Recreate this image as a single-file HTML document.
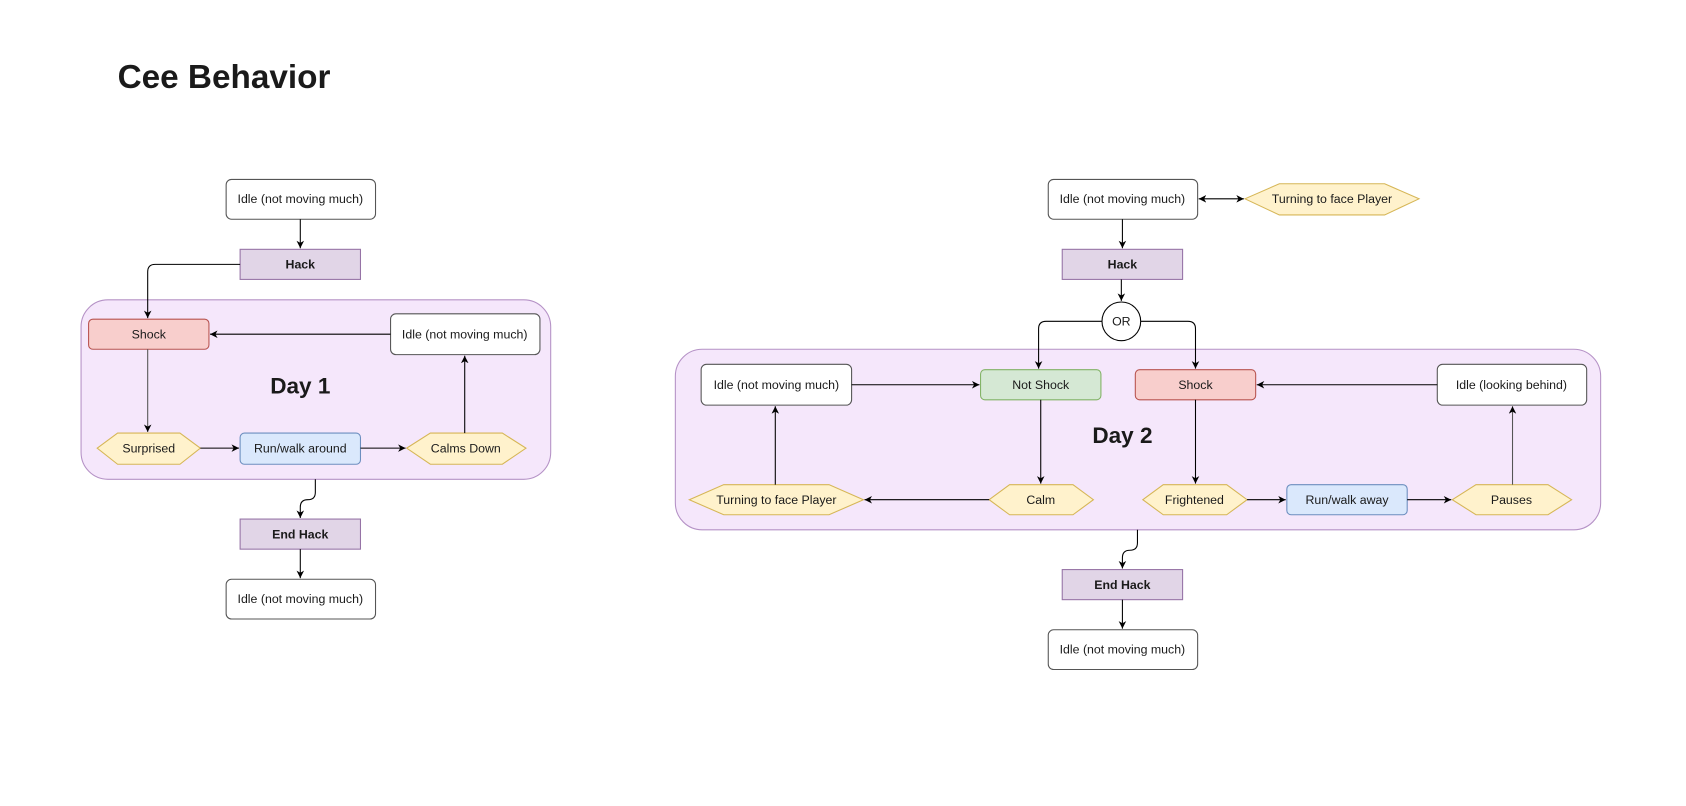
<!DOCTYPE html>
<html><head><meta charset="utf-8"><style>
html,body{margin:0;padding:0;background:#fff;}
svg{display:block;}
text{font-family:"Liberation Sans","DejaVu Sans",sans-serif;fill:#1a1a1a;}
</style></head><body>
<svg width="1686" height="806" viewBox="0 0 1568 750" xmlns="http://www.w3.org/2000/svg">
<defs>
<marker id="a" markerWidth="8" markerHeight="8" refX="7" refY="4" orient="auto" markerUnits="userSpaceOnUse">
<path d="M0,0.5 L7,4 L0,7.5 L2,4 Z" fill="#000"/></marker>
<marker id="b" markerWidth="8" markerHeight="8" refX="1" refY="4" orient="auto" markerUnits="userSpaceOnUse">
<path d="M8,0.5 L1,4 L8,7.5 L6,4 Z" fill="#000"/></marker>
</defs>
<rect width="1568" height="750" fill="#fff"/>
<text x="109" y="82" font-size="31" font-weight="bold">Cee Behavior</text>

<!-- Day 1 -->
<rect x="75" y="279" width="437" height="167" rx="25" fill="#f5e7fb" stroke="#b592c6"/>
<text x="279" y="366" font-size="21" font-weight="bold" text-anchor="middle">Day 1</text>
<g font-size="11.5" text-anchor="middle">
<rect x="210" y="167" width="139" height="37" rx="5" fill="#fff" stroke="#555"/>
<text x="279" y="189">Idle (not moving much)</text>
<rect x="223" y="232" width="112" height="28" fill="#e1d5e7" stroke="#9673a6"/>
<text x="279" y="250" font-weight="bold">Hack</text>
<rect x="82" y="297" width="112" height="28" rx="4" fill="#f8cecc" stroke="#b85450"/>
<text x="138" y="315">Shock</text>
<rect x="363" y="292" width="139" height="38" rx="5" fill="#fff" stroke="#555"/>
<text x="432" y="315">Idle (not moving much)</text>
<polygon points="90,417 109,403 167,403 186,417 167,432 109,432" fill="#fff2cc" stroke="#d6b656"/>
<text x="138" y="421">Surprised</text>
<rect x="223" y="403" width="112" height="29" rx="4" fill="#dae8fc" stroke="#6c8ebf"/>
<text x="279" y="421">Run/walk around</text>
<polygon points="378,417 400,403 467,403 489,417 467,432 400,432" fill="#fff2cc" stroke="#d6b656"/>
<text x="433" y="421">Calms Down</text>
<rect x="223" y="483" width="112" height="28" fill="#e1d5e7" stroke="#9673a6"/>
<text x="279" y="501" font-weight="bold">End Hack</text>
<rect x="210" y="539" width="139" height="37" rx="5" fill="#fff" stroke="#555"/>
<text x="279" y="561">Idle (not moving much)</text>
</g>
<g fill="none" stroke="#000" stroke-width="1">
<path d="M279,204 V231" marker-end="url(#a)"/>
<path d="M223,246 H144 Q137,246 137,253 V296" marker-end="url(#a)"/>
<path d="M363,311 H195" marker-end="url(#a)"/>
<path d="M137,325 V402" marker-end="url(#a)" stroke="#555"/>
<path d="M186,417 H222" marker-end="url(#a)"/>
<path d="M335,417 H377" marker-end="url(#a)"/>
<path d="M432,403 V331" marker-end="url(#a)"/>
<path d="M293,446 V458 Q293,465 286,465 Q279,465 279,472 V482" marker-end="url(#a)"/>
<path d="M279,511 V538" marker-end="url(#a)"/>
</g>

<!-- Day 2 -->
<rect x="628" y="325" width="861" height="168" rx="25" fill="#f5e7fb" stroke="#b592c6"/>
<text x="1044" y="412" font-size="21" font-weight="bold" text-anchor="middle">Day 2</text>
<g font-size="11.5" text-anchor="middle">
<rect x="975" y="167" width="139" height="37" rx="5" fill="#fff" stroke="#555"/>
<text x="1044" y="189">Idle (not moving much)</text>
<polygon points="1158,185 1190,171 1288,171 1320,185 1288,200 1190,200" fill="#fff2cc" stroke="#d6b656"/>
<text x="1239" y="189">Turning to face Player</text>
<rect x="988" y="232" width="112" height="28" fill="#e1d5e7" stroke="#9673a6"/>
<text x="1044" y="250" font-weight="bold">Hack</text>
<circle cx="1043" cy="299" r="18" fill="#fff" stroke="#000"/>
<text x="1043" y="303">OR</text>
<rect x="652" y="339" width="140" height="38" rx="5" fill="#fff" stroke="#555"/>
<text x="722" y="362">Idle (not moving much)</text>
<rect x="912" y="344" width="112" height="28" rx="4" fill="#d5e8d4" stroke="#82b366"/>
<text x="968" y="362">Not Shock</text>
<rect x="1056" y="344" width="112" height="28" rx="4" fill="#f8cecc" stroke="#b85450"/>
<text x="1112" y="362">Shock</text>
<rect x="1337" y="339" width="139" height="38" rx="5" fill="#fff" stroke="#555"/>
<text x="1406" y="362">Idle (looking behind)</text>
<polygon points="641,465 673,451 771,451 803,465 771,479 673,479" fill="#fff2cc" stroke="#d6b656"/>
<text x="722" y="469">Turning to face Player</text>
<polygon points="920,465 939,451 998,451 1017,465 998,479 939,479" fill="#fff2cc" stroke="#d6b656"/>
<text x="968" y="469">Calm</text>
<polygon points="1063,465 1082,451 1141,451 1160,465 1141,479 1082,479" fill="#fff2cc" stroke="#d6b656"/>
<text x="1111" y="469">Frightened</text>
<rect x="1197" y="451" width="112" height="28" rx="4" fill="#dae8fc" stroke="#6c8ebf"/>
<text x="1253" y="469">Run/walk away</text>
<polygon points="1351,465 1373,451 1440,451 1462,465 1440,479 1373,479" fill="#fff2cc" stroke="#d6b656"/>
<text x="1406" y="469">Pauses</text>
<rect x="988" y="530" width="112" height="28" fill="#e1d5e7" stroke="#9673a6"/>
<text x="1044" y="548" font-weight="bold">End Hack</text>
<rect x="975" y="586" width="139" height="37" rx="5" fill="#fff" stroke="#555"/>
<text x="1044" y="608">Idle (not moving much)</text>
</g>
<g fill="none" stroke="#000" stroke-width="1">
<path d="M1115,185 H1157" marker-start="url(#b)" marker-end="url(#a)"/>
<path d="M1044,204 V231" marker-end="url(#a)"/>
<path d="M1043,260 V280" marker-end="url(#a)"/>
<path d="M1025,299 H973 Q966,299 966,306 V343" marker-end="url(#a)"/>
<path d="M1061,299 H1105 Q1112,299 1112,306 V343" marker-end="url(#a)"/>
<path d="M792,358 H911" marker-end="url(#a)"/>
<path d="M1337,358 H1169" marker-end="url(#a)"/>
<path d="M968,372 V450" marker-end="url(#a)"/>
<path d="M920,465 H804" marker-end="url(#a)"/>
<path d="M721,451 V378" marker-end="url(#a)"/>
<path d="M1112,372 V450" marker-end="url(#a)"/>
<path d="M1160,465 H1196" marker-end="url(#a)"/>
<path d="M1309,465 H1350" marker-end="url(#a)"/>
<path d="M1407,451 V378" marker-end="url(#a)" stroke="#555"/>
<path d="M1058,493 V505 Q1058,512 1051,512 Q1044,512 1044,519 V529" marker-end="url(#a)"/>
<path d="M1044,558 V585" marker-end="url(#a)"/>
</g>
</svg>
</body></html>
